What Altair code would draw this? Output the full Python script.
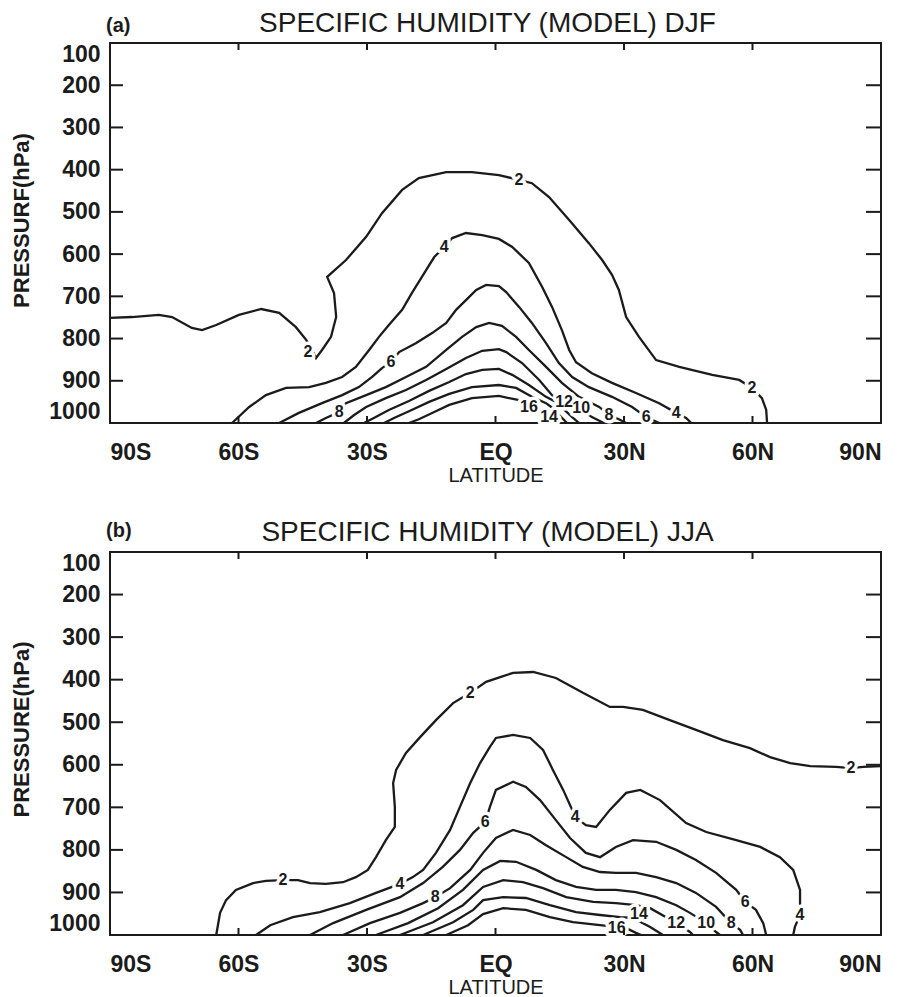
import altair as alt
import pandas as pd

# ---------------- axis values ----------------
LAT_TICKS = [-90, -60, -30, 0, 30, 60, 90]
INNER_LAT_TICKS = [-60, -30, 0, 30, 60]
P_TICKS = [100, 200, 300, 400, 500, 600, 700, 800, 900, 1000]
INNER_P_TICKS = [200, 300, 400, 500, 600, 700, 800, 900]

# ---------------- (a) DJF contours: (latitude, pressure hPa) ----------------
DJF_Q2 = [(-90, 751), (-84.9, 749), (-78.6, 744), (-75.5, 749), (-70.9, 775), (-68.5, 780),
          (-65.2, 768), (-59.9, 744), (-54.7, 730), (-50.5, 739), (-46.6, 773), (-44.2, 803),
          (-43.1, 822), (-41.9, 846), (-40.5, 827), (-38.4, 796), (-37.2, 749), (-37.7, 692),
          (-39.3, 654), (-34.9, 614), (-30.2, 559), (-26.5, 503), (-21.8, 448), (-17.9, 420),
          (-11.5, 406), (-5.5, 406), (0.8, 413), (5.5, 424), (8.5, 432), (12.5, 465),
          (17.2, 519), (21.8, 574), (24.9, 614), (27.2, 649), (28.8, 685), (30.5, 749),
          (33.5, 796), (37.5, 851), (42.9, 867), (50.6, 886), (56.9, 898), (59.9, 917),
          (62.2, 941), (63.2, 969), (63.4, 1000)]
DJF_Q4 = [(-61.5, 1000), (-57.5, 962), (-53.6, 934), (-48.9, 917), (-43.5, 915), (-39.6, 905),
          (-35.8, 891), (-32.6, 867), (-29.5, 827), (-27.2, 796), (-24.9, 768), (-21.8, 732),
          (-19.5, 692), (-16.2, 638), (-14.3, 607), (-12.0, 583), (-10.1, 562), (-6.9, 550),
          (-3.1, 555), (0.8, 564), (3.9, 583), (7.8, 621), (10.9, 678), (13.2, 725),
          (15.5, 780), (17.2, 827), (18.8, 856), (22.5, 882), (27.2, 905), (32.8, 929),
          (38.2, 953), (42.2, 976), (44.5, 988), (45.7, 1000)]
DJF_Q6 = [(-50.5, 1000), (-45.9, 976), (-40.5, 953), (-35.8, 934), (-31.9, 915), (-28.8, 891),
          (-26.5, 870), (-24.4, 856), (-22.5, 832), (-18.6, 811), (-14.8, 787), (-11.5, 763),
          (-9.2, 732), (-6.9, 709), (-4.5, 685), (-2.2, 673), (0.8, 676), (2.5, 690),
          (5.5, 725), (8.5, 763), (11.8, 811), (14.8, 858), (17.9, 891), (21.8, 915),
          (27.2, 938), (31.9, 962), (35.2, 986), (38.2, 1000)]
DJF_Q8 = [(-41.9, 1000), (-39.6, 988), (-36.5, 974), (-34.9, 953), (-30.2, 934), (-25.6, 915),
          (-20.9, 891), (-16.2, 867), (-11.5, 827), (-7.8, 796), (-4.5, 773), (-1.5, 763),
          (1.5, 770), (4.8, 796), (7.8, 827), (11.8, 867), (15.5, 905), (19.5, 938),
          (24.2, 962), (26.5, 981), (28.8, 991), (30.5, 1000)]
DJF_Q10 = [(-35.4, 1000), (-33.0, 981), (-30.2, 962), (-25.6, 941), (-20.9, 922), (-16.2, 898),
           (-11.5, 872), (-6.9, 846), (-3.1, 829), (0.8, 825), (2.5, 832), (6.2, 858),
           (10.2, 898), (13.2, 934), (16.5, 953), (19.5, 964), (22.5, 986), (25.3, 1000)]
DJF_Q12 = [(-30.7, 1000), (-28.4, 988), (-24.9, 969), (-20.2, 948), (-15.5, 924), (-10.8, 903),
           (-6.9, 884), (-3.1, 874), (0.8, 872), (3.9, 886), (7.8, 910), (11.8, 938),
           (14.1, 950), (17.9, 986), (19.5, 1000)]
DJF_Q14 = [(-26.0, 1000), (-23.7, 988), (-20.2, 972), (-15.5, 950), (-10.8, 931), (-5.5, 915),
           (0.8, 910), (4.8, 917), (8.5, 938), (11.8, 953), (13.0, 962), (16.7, 1000)]
DJF_Q16 = [(-20.2, 1000), (-17.9, 991), (-14.3, 974), (-10.8, 957), (-5.5, 941), (0.8, 936),
           (5.5, 946), (7.8, 962), (11.8, 976), (13.7, 1000)]
DJF_LABELS = [(-43.8, 832, "2"), (5.5, 424, "2"), (59.9, 917, "2"),
              (-12.0, 583, "4"), (42.2, 976, "4"),
              (-24.4, 856, "6"), (35.2, 986, "6"),
              (-36.5, 974, "8"), (26.5, 981, "8"),
              (20.0, 964, "10"), (16.0, 950, "12"), (12.5, 986, "14"), (7.8, 962, "16")]

# ---------------- (b) JJA contours ----------------
JJA_Q2 = [(-65.2, 1000), (-64.3, 948), (-62.9, 918), (-60.6, 894), (-56.6, 878), (-53.6, 873),
          (-49.6, 871), (-46.1, 871), (-43.3, 878), (-39.6, 880), (-35.6, 876), (-32.6, 864),
          (-29.8, 847), (-27.9, 817), (-25.6, 777), (-23.5, 746), (-23.5, 699), (-23.9, 643),
          (-23.2, 612), (-20.9, 572), (-17.6, 535), (-13.9, 495), (-9.9, 455), (-5.9, 431),
          (-2.2, 405), (1.1, 394), (4.1, 384), (8.8, 382), (14.1, 396), (20.4, 431),
          (26.7, 464), (29.8, 464), (34.4, 471), (40.7, 495), (46.8, 518), (53.1, 542),
          (59.4, 561), (64.1, 582), (68.8, 596), (73.5, 603), (79.5, 605), (83.0, 608),
          (85.8, 605), (90, 603)]
JJA_Q4 = [(-55.9, 1000), (-52.6, 977), (-47.3, 958), (-41.0, 946), (-34.0, 925), (-27.9, 901),
          (-22.3, 880), (-19.3, 864), (-16.9, 847), (-13.9, 807), (-10.6, 753), (-8.3, 699),
          (-5.9, 643), (-3.6, 596), (-1.3, 558), (0.1, 537), (4.1, 530), (8.1, 537),
          (11.1, 565), (13.4, 612), (15.8, 659), (17.6, 699), (18.6, 723), (21.1, 742),
          (23.5, 746), (26.7, 706), (30.5, 666), (33.8, 659), (38.4, 683), (44.5, 737),
          (49.2, 758), (56.2, 777), (61.8, 793), (66.4, 817), (69.5, 847), (71.1, 894),
          (71.1, 953), (69.9, 981), (69.5, 1000)]
JJA_Q6 = [(-43.3, 1000), (-37.9, 972), (-30.2, 941), (-22.3, 911), (-16.9, 878), (-12.3, 840),
          (-8.3, 800), (-5.2, 760), (-2.4, 734), (-1.3, 699), (0.1, 659), (4.1, 640),
          (7.1, 652), (10.4, 683), (14.1, 730), (17.4, 772), (21.1, 807), (24.4, 817),
          (28.1, 793), (32.1, 777), (37.5, 781), (42.2, 800), (46.8, 824), (51.5, 854),
          (56.2, 894), (58.3, 922), (60.8, 941), (62.5, 972), (63.2, 1000)]
JJA_Q8 = [(-35.6, 1000), (-29.3, 972), (-22.3, 948), (-16.9, 925), (-14.1, 911), (-10.6, 890),
          (-5.9, 847), (-2.9, 807), (0.1, 772), (4.1, 753), (8.1, 765), (11.8, 789),
          (16.5, 817), (20.4, 840), (24.4, 852), (28.1, 854), (32.8, 854), (37.5, 864),
          (42.2, 878), (46.8, 901), (51.5, 934), (55.0, 972), (57.1, 988), (57.8, 1000)]
JJA_Q10 = [(-27.9, 1000), (-20.4, 972), (-13.4, 937), (-7.6, 894), (-2.9, 847), (1.1, 826),
           (4.8, 828), (9.5, 847), (14.1, 871), (18.8, 887), (23.5, 894), (28.1, 894),
           (32.8, 899), (37.5, 911), (42.2, 930), (45.4, 948), (49.2, 972), (51.5, 993),
           (52.4, 1000)]
JJA_Q12 = [(-22.3, 1000), (-14.6, 970), (-7.6, 930), (-2.9, 887), (1.8, 871), (6.4, 876),
           (11.1, 890), (16.5, 911), (22.8, 922), (28.1, 925), (32.8, 930), (36.1, 937),
           (42.2, 972), (45.4, 993), (46.1, 1000)]
JJA_Q14 = [(-16.9, 1000), (-9.9, 970), (-5.2, 941), (-2.9, 918), (1.8, 911), (7.1, 913),
           (12.7, 930), (18.8, 946), (24.4, 953), (29.1, 958), (32.1, 960), (36.1, 981),
           (39.1, 1000)]
JJA_Q16 = [(-11.5, 1000), (-6.4, 977), (-2.9, 951), (1.8, 937), (7.1, 941), (12.7, 958),
           (18.1, 970), (24.4, 977), (28.1, 981), (30.5, 984), (32.8, 995), (34.0, 1000)]
JJA_LABELS = [(-49.6, 871, "2"), (-5.9, 431, "2"), (83.0, 608, "2"),
              (-22.3, 880, "4"), (18.6, 723, "4"), (71.1, 953, "4"),
              (-2.4, 734, "6"), (58.3, 922, "6"),
              (-14.1, 911, "8"), (55.0, 972, "8"),
              (49.2, 972, "10"), (42.2, 972, "12"), (33.5, 950, "14"), (28.3, 984, "16")]

DJF = {2: DJF_Q2, 4: DJF_Q4, 6: DJF_Q6, 8: DJF_Q8, 10: DJF_Q10, 12: DJF_Q12, 14: DJF_Q14, 16: DJF_Q16}
JJA = {2: JJA_Q2, 4: JJA_Q4, 6: JJA_Q6, 8: JJA_Q8, 10: JJA_Q10, 12: JJA_Q12, 14: JJA_Q14, 16: JJA_Q16}

FONT = "Liberation Sans"
INK = "#1b1b1b"
W = 771


def contour_frame(levels):
    rows = []
    for lev, pts in levels.items():
        for i, (lat, p) in enumerate(pts):
            rows.append({"lat": lat, "p": p, "level": lev, "i": i})
    return pd.DataFrame(rows)


def panel(levels, labels, letter, title, ytitle, H, letter_y):
    xscale = alt.Scale(domain=[-90, 90], nice=False, zero=False)
    yscale = alt.Scale(domain=[100, 1000], nice=False, zero=False, reverse=True)
    xaxis = alt.Axis(values=LAT_TICKS,
                     labelExpr="datum.value == 0 ? 'EQ' : (abs(datum.value) + (datum.value < 0 ? 'S' : 'N'))",
                     ticks=False, domain=False, grid=False,
                     labelFont=FONT, labelFontSize=23, labelFontWeight="bold", labelColor=INK,
                     labelPadding=18,
                     title="LATITUDE", titleFont=FONT, titleFontSize=20, titleFontWeight="normal",
                     titleColor=INK, titlePadding=1)
    yaxis = alt.Axis(values=P_TICKS, format="d", ticks=False, domain=False, grid=False,
                     labelFont=FONT, labelFontSize=23, labelFontWeight="bold", labelColor=INK,
                     labelPadding=10, labelFlush=True,
                     title=ytitle, titleFont=FONT, titleFontSize=22, titleFontWeight="bold",
                     titleColor=INK, titleAngle=270, titleX=-89, titleY=177,
                     titleAlign="center", titleBaseline="middle")
    X = alt.X("lat:Q", scale=xscale, axis=xaxis)
    Y = alt.Y("p:Q", scale=yscale, axis=yaxis)

    lines = alt.Chart(contour_frame(levels)).mark_line(color=INK, strokeWidth=2.3).encode(
        x=X, y=Y, detail="level:N", order="i:Q",
    )
    lab_df = pd.DataFrame(labels, columns=["lat", "p", "t"])
    halo = alt.Chart(lab_df).mark_text(font=FONT, fontSize=16, fontWeight="bold", fill="white",
                                       stroke="white", strokeWidth=7, strokeJoin="round").encode(
        x=X, y=Y, text="t:N",
    )
    text = alt.Chart(lab_df).mark_text(font=FONT, fontSize=16, fontWeight="bold", color=INK).encode(
        x=X, y=Y, text="t:N",
    )
    pt = pd.DataFrame({"p": INNER_P_TICKS})
    lt = pd.DataFrame({"lat": INNER_LAT_TICKS})
    left = alt.Chart(pt).mark_rule(color=INK, strokeWidth=2).encode(
        y=Y, x=alt.value(0), x2=alt.value(13))
    right = alt.Chart(pt).mark_rule(color=INK, strokeWidth=2).encode(
        y=Y, x=alt.value(W - 15), x2=alt.value(W))
    bottom = alt.Chart(lt).mark_rule(color=INK, strokeWidth=2).encode(
        x=X, y=alt.value(H - 7), y2=alt.value(H))
    top = alt.Chart(lt).mark_rule(color=INK, strokeWidth=2).encode(
        x=X, y=alt.value(0), y2=alt.value(7))
    heads = pd.DataFrame({"t": [letter, title], "kind": ["letter", "title"]})
    letter_mark = alt.Chart(heads).transform_filter("datum.kind == 'letter'").mark_text(
        font=FONT, fontSize=20, fontWeight="bold", align="left", baseline="middle", color=INK
    ).encode(x=alt.value(-4), y=alt.value(letter_y), text="t:N")
    title_mark = alt.Chart(heads).transform_filter("datum.kind == 'title'").mark_text(
        font=FONT, fontSize=28, fontWeight="normal", align="center", baseline="alphabetic", color=INK
    ).encode(x=alt.value(W / 2 - 8), y=alt.value(-11), text="t:N")

    return alt.layer(lines, halo, text, left, right, bottom, top, letter_mark, title_mark).properties(
        width=W, height=H,
    )


pa = panel(DJF, DJF_LABELS, "(a)", "SPECIFIC HUMIDITY (MODEL) DJF", "PRESSURF(hPa)", 380, -17)
pb = panel(JJA, JJA_LABELS, "(b)", "SPECIFIC HUMIDITY (MODEL) JJA", "PRESSURE(hPa)", 383, -21)

chart = alt.vconcat(pa, pb, spacing=32).properties(
    padding={"left": 1, "top": 1, "right": 0, "bottom": 0}, background="white"
).configure_view(stroke=INK, strokeWidth=2)

chart.save("out.html", embed_options={"renderer": "svg", "actions": False})
